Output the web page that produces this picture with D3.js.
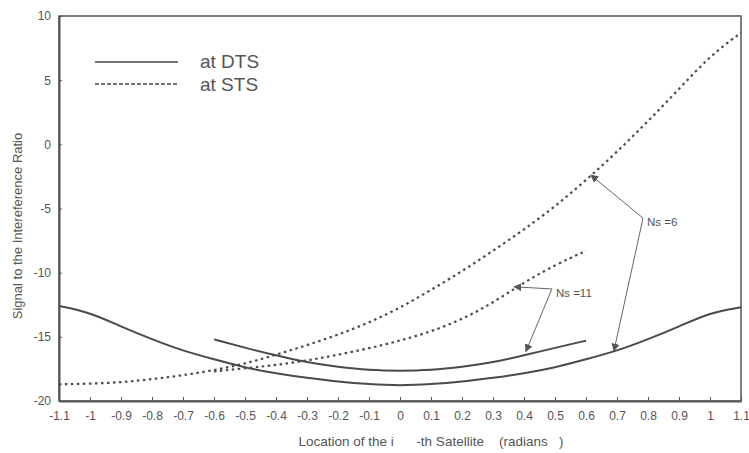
<!DOCTYPE html>
<html>
<head>
<meta charset="utf-8">
<script src="https://cdn.jsdelivr.net/npm/d3@7"></script>
<style>
  body { margin: 0; background: #fff; }
  text { font-family: "Liberation Sans", Arial, sans-serif; fill: #555; }
</style>
</head>
<body>
<div id="chart"></div>
<script>
// valores
const X_FULL = [-1.1, -1, -0.9, -0.8, -0.7, -0.6, -0.5, -0.4, -0.3, -0.2, -0.1, 0,
                0.1, 0.2, 0.3, 0.4, 0.5, 0.6, 0.7, 0.8, 0.9, 1, 1.1];
const X_SHORT = [-0.6, -0.5, -0.4, -0.3, -0.2, -0.1, 0, 0.1, 0.2, 0.3, 0.4, 0.5, 0.6];

// Ns = 6
const DTS_NS6 = [-12.6, -13.1, -14.2, -15.2, -16.1, -16.75, -17.4, -17.85, -18.2, -18.5, -18.7, -18.8,
                 -18.7, -18.5, -18.2, -17.85, -17.4, -16.75, -16.1, -15.2, -14.2, -13.1, -12.7];
const STS_NS6 = [-18.7, -18.65, -18.55, -18.3, -18.0, -17.6, -17.1, -16.4, -15.65, -14.85, -13.9, -12.75,
                 -11.35, -9.9, -8.3, -6.65, -4.85, -2.8, -0.6, 1.8, 4.3, 6.9, 8.7];

// Ns = 11
const DTS_NS11 = [-15.2, -15.85, -16.45, -17.0, -17.35, -17.6, -17.65, -17.6, -17.35, -17.0, -16.45, -15.85, -15.3];
const STS_NS11 = [-17.7, -17.45, -17.2, -16.85, -16.4, -15.9, -15.3, -14.6, -13.65, -12.35, -10.75, -9.4, -8.3];

const X_TICKS = [-1.1, -1, -0.9, -0.8, -0.7, -0.6, -0.5, -0.4, -0.3, -0.2, -0.1, 0,
                 0.1, 0.2, 0.3, 0.4, 0.5, 0.6, 0.7, 0.8, 0.9, 1, 1.1];
const Y_TICKS = [-20, -15, -10, -5, 0, 5, 10];

const LEGEND = [
    { label: "at DTS", dash: null },
    { label: "at STS", dash: "4,2" }
];

// flechas de anotacion: punta sobre la curva, codo y texto
const NOTES = [
    { label: "Ns =6", elbow: [0.784, -5.75], tips: [[0.616, -2.4], [0.69, -16.1]] },
    { label: "Ns =11", elbow: [0.49, -11.27], tips: [[0.368, -11.1], [0.406, -16.15]] }
];

const WIDTH = 749;
const HEIGHT = 453;
const margin = { left: 59, right: 8, top: 16, bottom: 52 };

const svg = d3.select("#chart").append("svg")
    .attr("width", WIDTH).attr("height", HEIGHT);

const x = d3.scaleLinear().domain([-1.1, 1.1]).range([margin.left, WIDTH - margin.right]);
const y = d3.scaleLinear().domain([-20, 10]).range([HEIGHT - margin.bottom, margin.top]);

const AXIS_COLOR = "#555";
const LINE_COLOR = "#4a4a4a";

// marco
svg.append("rect")
    .attr("x", x(-1.1)).attr("y", y(10))
    .attr("width", x(1.1) - x(-1.1)).attr("height", y(-20) - y(10))
    .attr("fill", "none").attr("stroke", AXIS_COLOR).attr("stroke-width", 1.5);

// ejes
const fmt = d => String(+d.toFixed(1));
const xAxis = svg.append("g")
    .attr("transform", `translate(0,${y(-20)})`)
    .call(d3.axisBottom(x).tickValues(X_TICKS).tickFormat(fmt).tickSizeInner(-4).tickSizeOuter(0).tickPadding(10));
xAxis.select(".domain").attr("stroke", AXIS_COLOR).attr("stroke-width", 2);
xAxis.selectAll(".tick line").attr("stroke", AXIS_COLOR);
xAxis.selectAll(".tick text").style("font-size", "12px").attr("fill", "#555");

const yAxis = svg.append("g")
    .attr("transform", `translate(${x(-1.1)},0)`)
    .call(d3.axisLeft(y).tickValues(Y_TICKS).tickFormat(fmt).tickSizeInner(-3).tickSizeOuter(0).tickPadding(8));
yAxis.select(".domain").attr("stroke", AXIS_COLOR).attr("stroke-width", 2);
yAxis.selectAll(".tick line").attr("stroke", AXIS_COLOR);
yAxis.selectAll(".tick text").style("font-size", "12px").attr("fill", "#555");

// titulos de ejes
svg.append("text")
    .attr("x", 431).attr("y", 446)
    .attr("text-anchor", "middle")
    .style("font-size", "13.5px")
    .style("white-space", "pre")
    .text("Location of the i      -th Satellite    (radians   )");

svg.append("text")
    .attr("transform", "translate(22,226) rotate(-90)")
    .attr("text-anchor", "middle")
    .style("font-size", "13px")
    .text("Signal to the Intereference Ratio");

// curvas
const line = (xs) => d3.line()
    .x((d, i) => x(xs[i]))
    .y(d => y(d))
    .curve(d3.curveBasis);

const series = [
    { xs: X_FULL, ys: DTS_NS6, dash: null },
    { xs: X_SHORT, ys: DTS_NS11, dash: null },
    { xs: X_FULL, ys: STS_NS6, dash: "2.5,3.5" },
    { xs: X_SHORT, ys: STS_NS11, dash: "2.5,3.5" }
];

svg.append("g")
    .selectAll("path")
    .data(series)
    .enter().append("path")
    .attr("d", d => line(d.xs)(d.ys))
    .attr("fill", "none")
    .attr("stroke", LINE_COLOR)
    .attr("stroke-width", d => d.dash ? 2.2 : 2)
    .attr("stroke-dasharray", d => d.dash);

// leyenda
const legend = svg.append("g");
legend.selectAll("line")
    .data(LEGEND)
    .enter().append("line")
    .attr("x1", 95).attr("x2", 178)
    .attr("y1", (d, i) => 62 + i * 22).attr("y2", (d, i) => 62 + i * 22)
    .attr("stroke", LINE_COLOR).attr("stroke-width", 1.3)
    .attr("stroke-dasharray", d => d.dash);
legend.selectAll("text")
    .data(LEGEND)
    .enter().append("text")
    .attr("x", 200)
    .attr("y", (d, i) => 68 + i * 23)
    .style("font-size", "19px")
    .attr("fill", "#444")
    .text(d => d.label);

// anotaciones
svg.append("defs").append("marker")
    .attr("id", "arrow")
    .attr("viewBox", "0 0 10 10")
    .attr("refX", 9).attr("refY", 5)
    .attr("markerWidth", 8).attr("markerHeight", 8)
    .attr("markerUnits", "userSpaceOnUse")
    .attr("orient", "auto")
    .append("path")
    .attr("d", "M0,0 L10,5 L0,10 Z")
    .attr("fill", "#555");

NOTES.forEach(n => {
    const g = svg.append("g");
    n.tips.forEach(t => {
        g.append("line")
            .attr("x1", x(n.elbow[0])).attr("y1", y(n.elbow[1]))
            .attr("x2", x(t[0])).attr("y2", y(t[1]))
            .attr("stroke", "#666").attr("stroke-width", 1)
            .attr("marker-end", "url(#arrow)");
    });
    g.append("text")
        .attr("x", x(n.elbow[0]) + 4)
        .attr("y", y(n.elbow[1]) + 8)
        .style("font-size", "11.5px")
        .text(n.label);
});
</script>
</body>
</html>
